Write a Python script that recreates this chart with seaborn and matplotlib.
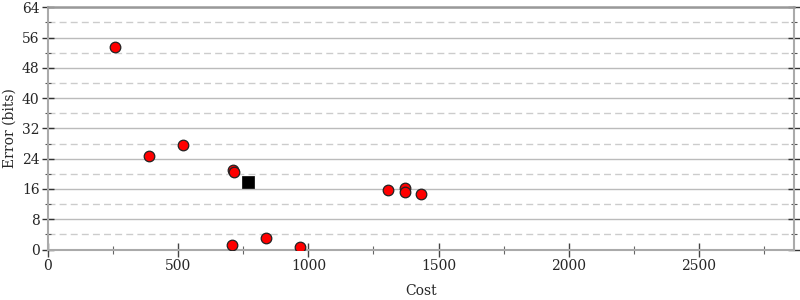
import matplotlib
matplotlib.use("Agg")
import matplotlib.pyplot as plt
import seaborn as sns
import pandas as pd
from matplotlib.ticker import MultipleLocator

cost = [257, 387, 520, 711, 713, 705, 836, 969, 1306, 1370, 1370, 1433]
error = [53.6, 24.8, 27.6, 21.1, 20.4, 1.3, 3.1, 0.8, 15.8, 16.2, 15.1, 14.8]
ref_cost = [767]
ref_error = [17.9]

sns.set_theme(style="white")
plt.rcParams['font.family'] = ['DejaVu Serif']

fig = plt.figure(figsize=(8, 3), dpi=100)
ax = fig.add_axes([0.06, 0.168, 0.9325, 0.808])

df = pd.DataFrame({"Cost": cost, "Error": error})
dref = pd.DataFrame({"Cost": ref_cost, "Error": ref_error})

ax.set_xlim(0, 2865)
ax.set_ylim(0, 64)
ax.yaxis.set_major_locator(MultipleLocator(8))
ax.yaxis.set_minor_locator(MultipleLocator(4))
ax.xaxis.set_major_locator(MultipleLocator(500))
ax.xaxis.set_minor_locator(MultipleLocator(250))

ax.grid(True, which="major", axis="y", color="#bbbbbb", linewidth=1.0, linestyle="-")
ax.grid(True, which="minor", axis="y", color="#cccccc", linewidth=1.0, linestyle=(0, (5, 3)))
ax.set_axisbelow(True)

sns.scatterplot(data=df, x="Cost", y="Error", ax=ax, color="#ff0000",
                edgecolor="#222222", linewidth=0.9, s=58, marker="o", zorder=3)
sns.scatterplot(data=dref, x="Cost", y="Error", ax=ax, color="#000000",
                edgecolor="#000000", linewidth=0.5, s=80, marker="s", zorder=3)

for side in ["left", "bottom", "right"]:
    ax.spines[side].set_color("#aaaaaa")
    ax.spines[side].set_linewidth(1.5)
ax.spines["top"].set_color("#999999")
ax.spines["top"].set_linewidth(1.8)

ax.tick_params(axis="y", which="major", direction="inout", length=8, width=1,
               color="#333333", left=True, right=True, labelsize=10, pad=2)
ax.tick_params(axis="y", which="minor", direction="inout", length=5, width=0.8,
               color="#555555", left=True, right=True)
ax.tick_params(axis="x", which="major", direction="inout", length=10, width=1,
               color="#444444", bottom=True, top=False, labelsize=10, pad=2)
ax.tick_params(axis="x", which="minor", direction="inout", length=6, width=0.8,
               color="#666666", bottom=True, top=False)

ax.set_xlabel("Cost", fontsize=10, labelpad=8)
ax.set_ylabel("Error (bits)", fontsize=10, labelpad=4)

fig.savefig("out.png", dpi=100)
